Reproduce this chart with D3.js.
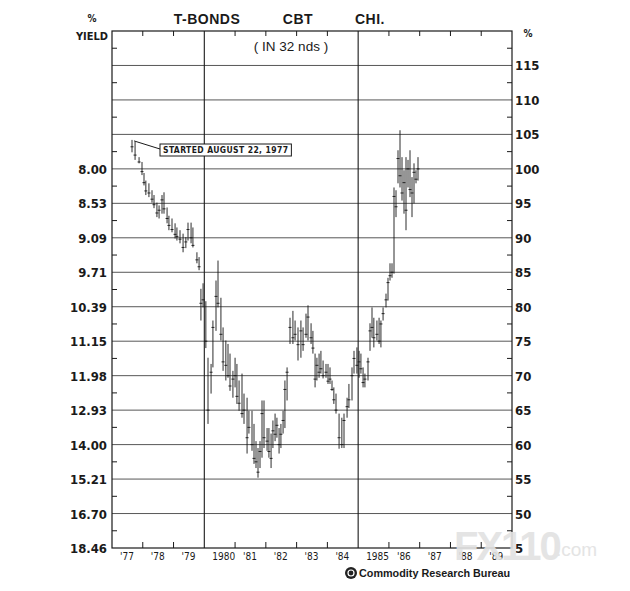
<!DOCTYPE html>
<html>
<head>
<meta charset="utf-8">
<script src="https://cdn.jsdelivr.net/npm/d3@7"></script>
<style>
  body { margin: 0; background: #fff; }
  svg { display: block; }
  .narrow { font-family: 'Liberation Sans Narrow', 'DejaVu Sans Condensed', sans-serif; font-weight: bold; }
</style>
</head>
<body>
<svg id="chart" width="630" height="591"></svg>
<script>
// chart frame
const width = 630;
const height = 591;
const frame = { left: 112, right: 512, top: 31, bottom: 548 };

// bar dates (decimal year)
const barYears = [
  1977.65, 1977.75, 1977.88, 1977.975, 1978.04, 1978.10, 1978.20, 1978.30, 1978.365, 1978.46,
  1978.53, 1978.625, 1978.69, 1978.79, 1978.85, 1978.95, 1979.05, 1979.11, 1979.21, 1979.31,
  1979.40, 1979.47, 1979.57, 1979.63, 1979.76, 1979.83,
  1979.89, 1979.96, 1980.05, 1980.12, 1980.22, 1980.28, 1980.38, 1980.445, 1980.54, 1980.61,
  1980.70, 1980.77, 1980.835, 1980.93, 1981.00, 1981.06, 1981.13, 1981.225, 1981.29, 1981.39,
  1981.45, 1981.55, 1981.615, 1981.68, 1981.745, 1981.81, 1981.875, 1981.94, 1982.04, 1982.10,
  1982.17, 1982.23, 1982.30, 1982.36, 1982.43, 1982.49, 1982.56, 1982.62, 1982.69, 1982.785,
  1982.88, 1982.95, 1983.045,
  1983.14, 1983.21, 1983.305, 1983.37, 1983.47, 1983.53, 1983.60, 1983.66, 1983.73, 1983.79,
  1983.86, 1983.955, 1984.02, 1984.085, 1984.15, 1984.21, 1984.28, 1984.38, 1984.47, 1984.54,
  1984.64, 1984.70, 1984.80, 1984.865,
  1984.96, 1985.03, 1985.09, 1985.16, 1985.22, 1985.32, 1985.385, 1985.45, 1985.51, 1985.61,
  1985.68, 1985.74, 1985.81, 1985.905, 1985.97, 1986.035, 1986.10, 1986.165, 1986.23, 1986.295,
  1986.36, 1986.425, 1986.49, 1986.555, 1986.62, 1986.685, 1986.75, 1986.815, 1986.88, 1986.945
];
const highs = [
  104.2, 103.9, 101.7, 101.0, 99.4, 98.3, 97.9, 96.9, 96.2, 95.1,
  94.7, 96.2, 96.6, 94.4, 93.2, 92.8, 92.1, 91.5, 91.1, 90.6,
  90.1, 92.2, 92.2, 91.5, 87.9, 87.2,
  82.6, 83.4, 80.8, 72.6, 71.7, 78.0, 83.8, 86.7, 81.3, 77.0,
  75.1, 74.6, 73.2, 70.7, 72.6, 71.7, 69.3, 70.3, 67.4, 66.8,
  64.9, 64.9, 63.0, 60.5, 59.5, 60.5, 66.4, 66.4, 62.4, 62.4,
  61.6, 63.5, 64.5, 63.9, 62.4, 63.0, 64.9, 69.3, 71.2, 78.4,
  79.4, 78.0, 77.0,
  78.0, 77.0, 79.0, 80.2, 77.6, 76.5, 73.2, 72.6, 73.2, 73.6,
  72.2, 71.7, 71.7, 71.2, 69.3, 68.3, 67.4, 64.5, 63.9, 64.5,
  66.8, 68.8, 71.2, 73.6,
  74.1, 73.6, 73.2, 71.2, 70.3, 72.6, 77.6, 79.9, 78.4, 78.0,
  78.4, 78.0, 79.9, 81.9, 84.2, 86.3, 86.3, 97.3, 96.9, 102.7,
  105.6, 101.7, 99.8, 101.7, 101.3, 102.7, 98.8, 100.8, 99.8, 101.7
];
const lows = [
  102.4, 101.3, 100.8, 99.1, 97.6, 96.2, 95.9, 95.1, 94.3, 93.0,
  92.8, 93.5, 93.5, 92.1, 91.1, 90.8, 89.9, 89.6, 89.2, 87.9,
  88.5, 89.6, 89.2, 88.6, 86.3, 85.3,
  78.0, 79.9, 74.0, 63.0, 67.4, 71.2, 76.5, 79.9, 75.1, 70.7,
  69.3, 69.7, 67.8, 66.8, 68.3, 65.9, 64.9, 63.9, 63.0, 58.7,
  61.6, 59.1, 57.2, 56.6, 55.2, 56.6, 58.1, 59.5, 59.1, 58.1,
  56.6, 59.5, 60.5, 61.0, 58.7, 59.5, 61.6, 62.4, 66.4, 74.6,
  74.6, 75.1, 72.2,
  72.6, 73.6, 75.5, 75.1, 74.6, 73.2, 68.3, 69.3, 69.7, 70.3,
  69.6, 69.7, 68.8, 68.8, 67.8, 65.9, 64.5, 59.4, 59.5, 59.5,
  63.9, 65.3, 66.4, 70.3,
  70.3, 69.7, 70.3, 68.3, 68.3, 69.3, 73.6, 75.5, 74.1, 75.1,
  74.6, 74.1, 78.0, 79.9, 80.9, 83.8, 84.2, 84.8, 93.0, 97.9,
  97.3, 95.4, 93.5, 91.1, 97.3, 95.9, 93.0, 95.0, 97.9, 98.3
];
const closes = [
  103.2, 102.0, 101.0, 99.6, 98.0, 96.8, 96.5, 95.6, 94.8, 93.6,
  94.0, 95.5, 94.2, 92.8, 91.8, 91.2, 90.5, 90.2, 89.8, 88.6,
  89.4, 91.2, 90.0, 88.9, 86.8, 85.8,
  80.5, 81.0, 75.0, 65.0, 70.5, 77.0, 81.5, 80.5, 76.0, 72.0,
  71.5, 70.0, 68.5, 69.5, 70.0, 67.0, 66.0, 64.5, 65.0, 61.0,
  62.5, 60.0, 58.0, 57.5, 56.0, 59.0, 64.5, 61.0, 60.5, 59.0,
  58.0, 62.0, 61.5, 62.8, 60.0, 61.5, 63.5, 68.0, 70.5, 77.0,
  75.5, 76.0, 74.5,
  76.5, 74.5, 76.0, 78.5, 75.5, 74.0, 69.5, 71.5, 70.5, 71.0,
  70.0, 70.5, 69.2, 69.5, 68.0, 66.5, 65.0, 61.0, 60.0, 63.5,
  65.5, 66.5, 70.0, 72.5,
  71.5, 72.0, 71.0, 69.0, 69.5, 72.0, 76.5, 77.0, 75.5, 76.0,
  75.0, 77.5, 79.0, 81.0, 83.5, 84.5, 85.0, 96.0, 94.5, 101.5,
  99.0, 96.5, 98.0, 94.0, 100.0, 97.0, 96.5, 99.5, 98.5, 100.0
];

// axis levels and tick labels
const priceLevels = [115, 110, 105, 100, 95, 90, 85, 80, 75, 70, 65, 60, 55, 50, 45];
const priceLabels = ["115", "110", "105", "100", "95", "90", "85", "80", "75", "70", "65", "60", "55", "50", "5"];
const yieldLevels = [100, 95, 90, 85, 80, 75, 70, 65, 60, 55, 50, 45];
const yieldLabels = ["8.00", "8.53", "9.09", "9.71", "10.39", "11.15", "11.98", "12.93", "14.00", "15.21", "16.70", "18.46"];
const halfLevels = [117.5, 112.5, 107.5, 102.5, 97.5, 92.5, 87.5, 82.5, 77.5, 72.5, 67.5, 62.5, 57.5, 52.5, 47.5];
const yearStarts = [1978, 1979, 1980, 1981, 1982, 1983, 1984, 1985, 1986, 1987, 1988, 1989];
const yearLabels = ["'77", "'78", "'79", "1980", "'81", "'82", "'83", "'84", "1985", "'86", "'87", "'88", "'89"];
const labelYears = [1977, 1978, 1979, 1980, 1981, 1982, 1983, 1984, 1985, 1986, 1987, 1988, 1989];
const dividerYears = [1980, 1985];

const xScale = d3.scaleLinear().domain([1977, 1990]).range([frame.left, frame.right]);
const yScale = d3.scaleLinear().domain([45, 120]).range([frame.bottom, frame.top]);

const svg = d3.select("#chart");
const ink = "#1a1a1a";

// horizontal grid lines
svg.append("g").selectAll("line")
  .data(priceLevels.filter(p => p > 45))
  .enter().append("line")
    .attr("x1", frame.left).attr("x2", frame.right)
    .attr("y1", d => yScale(d)).attr("y2", d => yScale(d))
    .attr("stroke", "#444").attr("stroke-width", 0.9);

// 1980 and 1985 dividers
svg.append("g").selectAll("line")
  .data(dividerYears)
  .enter().append("line")
    .attr("x1", d => xScale(d)).attr("x2", d => xScale(d))
    .attr("y1", frame.top).attr("y2", frame.bottom)
    .attr("stroke", ink).attr("stroke-width", 1.1);

// frame
svg.append("rect")
  .attr("x", frame.left).attr("y", frame.top)
  .attr("width", frame.right - frame.left).attr("height", frame.bottom - frame.top)
  .attr("fill", "none").attr("stroke", ink).attr("stroke-width", 1.2);

// year ticks top + bottom
const yTicks = svg.append("g").attr("stroke", ink).attr("stroke-width", 1);
yTicks.selectAll("line.top")
  .data(yearStarts.filter(y => !dividerYears.includes(y)))
  .enter().append("line").attr("class", "top")
    .attr("x1", d => xScale(d)).attr("x2", d => xScale(d))
    .attr("y1", frame.top).attr("y2", frame.top + 5);
yTicks.selectAll("line.bot")
  .data(yearStarts.filter(y => !dividerYears.includes(y)))
  .enter().append("line").attr("class", "bot")
    .attr("x1", d => xScale(d)).attr("x2", d => xScale(d))
    .attr("y1", frame.bottom).attr("y2", frame.bottom - 6);

// half-level ticks, left and right
const hTicks = svg.append("g").attr("stroke", ink).attr("stroke-width", 1);
hTicks.selectAll("line.l")
  .data(halfLevels)
  .enter().append("line").attr("class", "l")
    .attr("x1", frame.left).attr("x2", frame.left + 5)
    .attr("y1", d => yScale(d)).attr("y2", d => yScale(d));
hTicks.selectAll("line.r")
  .data(halfLevels)
  .enter().append("line").attr("class", "r")
    .attr("x1", frame.right).attr("x2", frame.right - 5)
    .attr("y1", d => yScale(d)).attr("y2", d => yScale(d));

// price bars
const bars = d3.range(barYears.length).map(i => ({ t: barYears[i], hi: highs[i], lo: lows[i], cl: closes[i] }));
const barG = svg.append("g").attr("stroke", "#151515");
barG.selectAll("line.hl")
  .data(bars)
  .enter().append("line").attr("class", "hl")
    .attr("x1", d => xScale(d.t)).attr("x2", d => xScale(d.t))
    .attr("y1", d => yScale(d.hi)).attr("y2", d => yScale(d.lo))
    .attr("stroke-width", 0.9);
barG.selectAll("line.cl")
  .data(bars)
  .enter().append("line").attr("class", "cl")
    .attr("x1", d => xScale(d.t) - 1.5).attr("x2", d => xScale(d.t) + 1.5)
    .attr("y1", d => yScale(d.cl)).attr("y2", d => yScale(d.cl))
    .attr("stroke-width", 0.9);

// right axis labels
svg.append("g").attr("class", "narrow").selectAll("text")
  .data(priceLevels)
  .enter().append("text")
    .attr("x", frame.right + 3)
    .attr("y", d => yScale(d) + 5)
    .attr("font-size", 13)
    .attr("fill", ink)
    .text((d, i) => priceLabels[i]);

// left yield labels
svg.append("g").attr("class", "narrow").selectAll("text")
  .data(yieldLevels)
  .enter().append("text")
    .attr("x", frame.left - 5)
    .attr("y", d => yScale(d) + 5)
    .attr("text-anchor", "end")
    .attr("font-size", 13)
    .attr("fill", ink)
    .text((d, i) => yieldLabels[i]);

// year labels
svg.append("g").attr("class", "narrow").selectAll("text")
  .data(labelYears)
  .enter().append("text")
    .attr("x", d => xScale(d) + 8)
    .attr("y", frame.bottom + 12)
    .attr("font-size", 10)
    .attr("font-weight", "normal")
    .attr("fill", ink)
    .text((d, i) => yearLabels[i]);

// titles
const head = svg.append("g").attr("font-family", "'Liberation Sans', Arial, sans-serif")
  .attr("font-weight", "bold").attr("fill", ink);
head.append("text").attr("x", 207).attr("y", 24).attr("text-anchor", "middle")
  .attr("font-size", 14).attr("letter-spacing", 0.5).text("T-BONDS");
head.append("text").attr("x", 298).attr("y", 24).attr("text-anchor", "middle")
  .attr("font-size", 14).attr("letter-spacing", 0.5).text("CBT");
head.append("text").attr("x", 370).attr("y", 24).attr("text-anchor", "middle")
  .attr("font-size", 14).attr("letter-spacing", 0.5).text("CHI.");
head.append("text").attr("x", 291).attr("y", 51).attr("text-anchor", "middle")
  .attr("font-weight", "normal").attr("font-size", 13.5).text("( IN 32 nds )");

svg.append("text").attr("class", "narrow").attr("x", 92).attr("y", 22).attr("text-anchor", "middle")
  .attr("font-size", 10).attr("fill", ink).text("%");
svg.append("text").attr("class", "narrow").attr("x", 92).attr("y", 40).attr("text-anchor", "middle")
  .attr("font-size", 11).attr("fill", ink).text("YIELD");
svg.append("text").attr("class", "narrow").attr("x", 528).attr("y", 37).attr("text-anchor", "middle")
  .attr("font-size", 10).attr("fill", ink).text("%");

// start note
const noteX = 160, noteY = 144;
svg.append("line")
  .attr("x1", xScale(barYears[0]) + 2).attr("y1", yScale(highs[0]) + 1)
  .attr("x2", noteX).attr("y2", noteY + 5)
  .attr("stroke", ink).attr("stroke-width", 1);
const noteG = svg.append("g");
const noteBox = noteG.append("rect")
  .attr("x", noteX).attr("y", noteY).attr("height", 12)
  .attr("fill", "#fff").attr("stroke", ink).attr("stroke-width", 1);
const note = noteG.append("text").attr("class", "narrow")
  .attr("x", noteX + 3).attr("y", noteY + 9)
  .attr("font-size", 8.5).attr("letter-spacing", 0.4).attr("fill", ink)
  .text("STARTED AUGUST 22, 1977");
noteBox.attr("width", note.node().getBBox().width + 6);

// footer
const crb = svg.append("g");
crb.append("circle").attr("cx", 351).attr("cy", 573).attr("r", 6).attr("fill", "#222");
crb.append("circle").attr("cx", 351).attr("cy", 573).attr("r", 3).attr("fill", "none")
  .attr("stroke", "#fff").attr("stroke-width", 1.2);
crb.append("text").attr("x", 359).attr("y", 577)
  .attr("font-family", "'Liberation Sans', Arial, sans-serif").attr("font-weight", "bold")
  .attr("font-size", 10.8).attr("fill", ink).text("Commodity Research Bureau");

// watermark
const wm = svg.append("g").attr("fill", "#e2e2e2").attr("opacity", 0.9)
  .attr("font-family", "'Liberation Sans', Arial, sans-serif").attr("font-weight", "bold");
wm.append("text").attr("x", 454).attr("y", 560).attr("font-size", 40).attr("letter-spacing", -2).text("FX110");
wm.append("text").attr("x", 556).attr("y", 556).attr("font-size", 19).attr("font-weight", "normal").text(".com");
</script>
</body>
</html>
